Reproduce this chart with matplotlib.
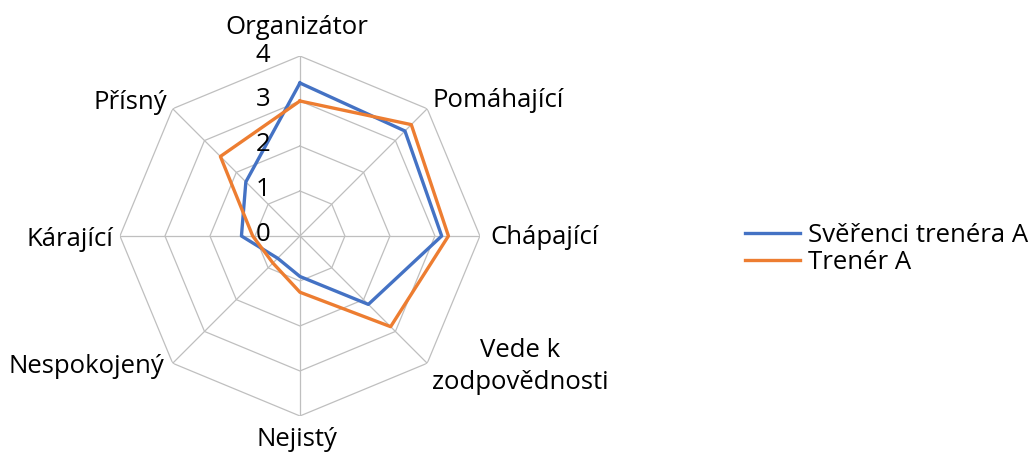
import matplotlib.pyplot as plt
import numpy as np

plt.rcParams['font.family'] = ['Open Sans', 'DejaVu Sans']

# data
categories = ['Organizátor', 'Pomáhající', 'Chápající', 'Vede k\nzodpovědnosti',
              'Nejistý', 'Nespokojený', 'Kárající', 'Přísný']
sverenci = [3.4, 3.3, 3.15, 2.15, 0.9, 0.7, 1.3, 1.7]
trener = [3.0, 3.5, 3.3, 2.85, 1.25, 0.85, 1.05, 2.5]
ring_values = [0, 1, 2, 3, 4]
series_names = ['Svěřenci trenéra A', 'Trenér A']

n = len(categories)
theta = np.arange(n) * 2 * np.pi / n
theta_c = np.append(theta, theta[0])

fig = plt.figure(figsize=(10.35, 4.54), dpi=100)
ax = fig.add_axes([0.1159, 0.0837, 0.3478, 0.7930], projection='polar')
ax.set_theta_offset(np.pi / 2)
ax.set_theta_direction(-1)
ax.set_ylim(0, 4)
ax.grid(False)
ax.spines['polar'].set_visible(False)
ax.set_xticks([])
ax.set_yticks([])
ax.patch.set_alpha(0)

grid_col = '#BFBFBF'
# polygon rings
for r in ring_values[1:]:
    ax.plot(theta_c, [r] * (n + 1), color=grid_col, lw=0.9, zorder=1)
# spokes
for t in theta:
    ax.plot([t, t], [0, 4], color=grid_col, lw=0.9, zorder=1)

# series
l1, = ax.plot(theta_c, sverenci + sverenci[:1], color='#4472C4', lw=2.4,
              zorder=3, label=series_names[0])
l2, = ax.plot(theta_c, trener + trener[:1], color='#ED7D31', lw=2.4,
              zorder=4, label=series_names[1])

fs = 18.5
# category labels
offsets = [(-3, 29, 'center'), (5, 8, 'left'), (10, -2, 'left'),
           (93, -3, 'center'), (-3, -24, 'center'), (-8, -3, 'right'),
           (-7, -4, 'right'), (-6, 6, 'right')]
for t, lab, (dx, dy, ha) in zip(theta, categories, offsets):
    ax.annotate(lab, xy=(t, 4), xytext=(dx, dy), textcoords='offset pixels',
                ha=ha, va='center', multialignment='center', fontsize=fs,
                annotation_clip=False, linespacing=1.35)

# radial tick labels
for r in ring_values:
    ax.annotate(str(r), xy=(0, r), xytext=(-37, 1), textcoords='offset pixels',
                ha='center', va='center', fontsize=fs, annotation_clip=False,
                zorder=5)

fig.legend(handles=[l1, l2], loc='center left',
           bbox_to_anchor=(745 / 1035, 205 / 454), frameon=False,
           fontsize=fs, handlelength=2.15, handletextpad=0.3,
           labelspacing=0.1, borderpad=0, borderaxespad=0)

fig.savefig('out.png', dpi=100)
